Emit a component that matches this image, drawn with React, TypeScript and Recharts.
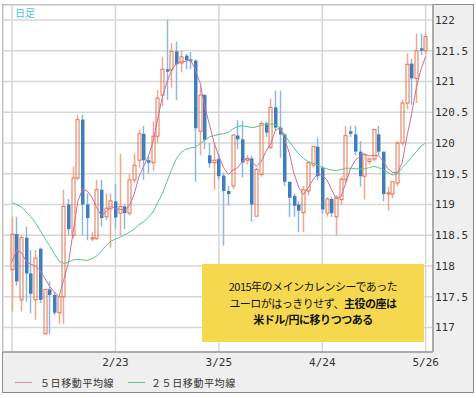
import { ComposedChart, Bar, Line, XAxis, YAxis, CartesianGrid } from 'recharts';

// daily candles, bar 0 = first gridline, bar 88 = 5/26
const opens = [
  117.94, 118.52, 117.45, 118.46, 117.88, 117.45, 118.28, 116.9, 117.62, 117.53,
  117.24, 117.5, 119.0, 118.5, 119.43, 120.38, 119.0, 118.44, 118.45, 119.24,
  118.8, 118.93, 119.05, 118.86, 118.97, 118.86, 119.4, 119.72, 120.15, 119.72,
  119.68, 120.11, 120.78, 121.2, 121.19, 121.49, 121.3, 121.42, 121.36, 121.34,
  120.19, 120.78, 119.8, 119.68, 119.74, 119.47, 119.22, 119.3, 120.12, 120.06,
  119.72, 119.75, 118.81, 119.49, 120.32, 119.93, 120.58, 120.25, 120.14, 119.37,
  119.14, 119.0, 118.87, 119.22, 119.64, 119.94, 119.6, 118.86, 119.09, 118.8,
  119.08, 119.41, 120.19, 120.14, 119.86, 119.46, 119.7, 119.74, 120.14, 119.86,
  119.17, 119.17, 119.35, 120.0, 120.65, 121.29, 121.05, 121.54, 121.5,
];
const highs = [
  118.8, 118.8, 118.5, 118.64, 118.26, 118.26, 118.3, 117.62, 117.75, 117.58,
  117.5, 119.24, 119.09, 119.62, 120.46, 120.46, 119.18, 118.55, 119.4, 119.4,
  119.18, 119.18, 119.33, 119.83, 119.0, 119.5, 119.83, 120.21, 120.28, 119.8,
  120.35, 120.86, 121.4, 122.0, 121.62, 121.65, 121.5, 121.45, 121.48, 121.36,
  120.92, 120.8, 120.0, 120.0, 119.82, 119.52, 119.3, 120.13, 120.37, 120.36,
  119.8, 119.79, 119.6, 120.35, 120.35, 120.72, 120.85, 120.85, 120.16, 119.37,
  119.18, 119.05, 119.3, 119.7, 119.96, 120.09, 119.62, 119.12, 119.12, 119.15,
  119.45, 120.28, 120.28, 120.28, 120.03, 119.84, 119.76, 120.22, 120.28, 119.86,
  119.29, 119.37, 120.03, 120.7, 121.46, 121.37, 121.78, 121.78, 121.78,
];
const lows = [
  117.26, 117.68, 117.26, 117.42, 117.23, 117.13, 117.4, 116.88, 116.89, 117.2,
  117.06, 117.06, 118.5, 118.45, 119.4, 118.5, 118.42, 118.4, 118.42, 118.64,
  118.75, 118.3, 118.6, 118.5, 118.6, 118.82, 119.35, 119.6, 119.4, 119.5,
  119.55, 120.0, 120.6, 120.7, 120.9, 120.7, 121.15, 121.2, 121.2, 119.37,
  119.8, 119.9, 119.6, 119.24, 119.4, 118.33, 118.98, 119.25, 119.9, 119.44,
  119.65, 118.72, 118.8, 119.45, 120.1, 119.9, 120.2, 119.76, 119.3, 118.8,
  118.8, 118.55, 118.55, 119.15, 119.6, 119.4, 118.85, 118.8, 118.8, 118.5,
  119.0, 119.35, 120.1, 119.8, 119.29, 119.08, 119.65, 119.7, 119.8, 119.05,
  118.9, 119.1, 119.3, 119.95, 120.55, 120.62, 120.65, 121.43, 121.45,
];
const closes = [
  118.52, 117.75, 118.46, 117.88, 117.55, 118.13, 117.45, 117.62, 117.53, 117.24,
  117.5, 118.97, 118.6, 119.43, 120.38, 119.0, 118.78, 118.46, 119.24, 118.78,
  118.94, 119.06, 118.79, 118.97, 118.86, 119.4, 119.64, 120.15, 119.72, 119.68,
  120.11, 120.73, 121.2, 121.16, 121.49, 121.28, 121.4, 121.35, 121.33, 120.24,
  120.78, 120.05, 119.67, 119.72, 119.46, 119.22, 119.17, 120.13, 120.06, 119.68,
  119.75, 119.0, 119.57, 120.32, 120.17, 120.58, 120.25, 120.14, 119.37, 119.11,
  118.98, 118.9, 119.24, 119.68, 119.94, 119.46, 118.92, 119.09, 118.86, 119.12,
  119.41, 120.12, 120.15, 119.86, 119.46, 119.81, 119.74, 120.22, 119.86, 119.17,
  119.19, 119.37, 120.0, 120.65, 121.28, 121.05, 121.5, 121.5, 121.73,
];
const ma5 = [
  118.07, 118.26, 118.22, 118.08, 118.03, 118.0, 117.92, 117.8, 117.67, 117.58,
  117.5, 117.78, 118.05, 118.55, 119.05, 119.25, 119.22, 119.12, 118.95, 118.82,
  118.88, 118.97, 118.94, 118.92, 118.91, 118.98, 119.17, 119.45, 119.62, 119.78,
  120.02, 120.4, 120.75, 121.0, 121.19, 121.3, 121.32, 121.33, 121.35, 121.19,
  120.98, 120.6, 120.3, 120.0, 119.79, 119.6, 119.49, 119.56, 119.6, 119.7,
  119.75, 119.7, 119.62, 119.7, 119.86, 119.98, 120.2, 120.25, 120.06, 119.84,
  119.5, 119.28, 119.16, 119.27, 119.4, 119.5, 119.47, 119.4, 119.24, 119.09,
  119.13, 119.35, 119.58, 119.72, 119.78, 119.82, 119.79, 119.8, 119.79, 119.7,
  119.58, 119.52, 119.52, 119.68, 120.1, 120.47, 120.9, 121.2, 121.41,
];
const ma25 = [
  119.03, 119.0, 118.96, 118.88, 118.8, 118.7, 118.58, 118.45, 118.33, 118.2,
  118.08, 118.04, 118.06, 118.1, 118.11, 118.1, 118.09, 118.12, 118.16, 118.24,
  118.33, 118.4, 118.44, 118.47, 118.51, 118.55, 118.6, 118.67, 118.72, 118.79,
  118.88, 119.03, 119.18, 119.38, 119.58, 119.75, 119.85, 119.9, 119.92, 119.93,
  119.99, 120.05, 120.1, 120.12, 120.14, 120.15, 120.17, 120.23, 120.27, 120.28,
  120.27, 120.25, 120.26, 120.29, 120.3, 120.31, 120.3, 120.25, 120.13, 120.02,
  119.92, 119.82, 119.75, 119.7, 119.67, 119.64, 119.6, 119.58, 119.56, 119.55,
  119.57, 119.59, 119.59, 119.58, 119.58, 119.58, 119.6, 119.62, 119.6, 119.56,
  119.52, 119.48, 119.5, 119.6, 119.68, 119.77, 119.86, 119.95, 120.0,
];

const tickIdx = [0, 22, 44, 66, 88];
const tickLabels = ['', '2/23', '3/25', '4/24', '5/26'];
const priceTicks = [117, 117.5, 118, 118.5, 119, 119.5, 120, 120.5, 121, 121.5, 122];

const data = opens.map((o, i) => ({
  idx: i,
  open: o,
  high: highs[i],
  low: lows[i],
  close: closes[i],
  ma5: ma5[i],
  ma25: ma25[i],
}));

const UP = '#e8704f';
const UP_WICK = '#f2a690';
const DOWN = '#3d7ebf';
const DOWN_WICK = '#8cb8e0';

function Candle(props: any) {
  const { x, y, width, height, payload } = props;
  if (x == null || y == null) return null;
  const cx = Math.round(x + width / 2) + 0.5;
  const top = Math.min(y, y + height);
  const bottom = Math.max(y, y + height);
  const span = payload.high - payload.low || 1;
  const toY = (v: number) => top + ((payload.high - v) / span) * (bottom - top);
  const up = payload.close >= payload.open;
  const bTop = toY(Math.max(payload.open, payload.close));
  let bBot = toY(Math.min(payload.open, payload.close));
  if (bBot - bTop < 1) bBot = bTop + 1;
  if (up) {
    return (
      <g>
        <line x1={cx} x2={cx} y1={top} y2={bTop} stroke={UP_WICK} strokeWidth={1.5} />
        <line x1={cx} x2={cx} y1={bBot} y2={bottom} stroke={UP_WICK} strokeWidth={1.5} />
        <rect x={cx - 1.5} y={bTop} width={3} height={bBot - bTop} fill="none" stroke={UP} strokeWidth={1} />
      </g>
    );
  }
  return (
    <g>
      <line x1={cx} x2={cx} y1={top} y2={bottom} stroke={DOWN_WICK} strokeWidth={1.5} />
      <rect x={cx - 1.5} y={bTop} width={3.5} height={bBot - bTop} fill={DOWN} />
    </g>
  );
}

const jp = '"Noto Sans CJK JP", "Noto Sans", sans-serif';
const mono = '"DejaVu Sans Mono", monospace';

export default function App() {
  return (
    <div style={{ position: 'absolute', left: 0, top: 0, width: 476, height: 398, background: '#fff', overflow: 'hidden' }}>
      <div
        style={{
          position: 'absolute',
          left: 2,
          top: 4,
          width: 472,
          height: 389,
          border: '1px solid #8c8c8c',
          boxSizing: 'border-box',
          background: '#efefef',
        }}
      />
      <div style={{ position: 'absolute', left: 0, top: 0 }}>
        <ComposedChart
          width={476}
          height={398}
          data={data}
          margin={{ top: 5, right: 2, bottom: 26, left: 3 }}
        >
          <CartesianGrid stroke="#d6d6d6" strokeWidth={1.5} fill="#ffffff" />
          <XAxis
            dataKey="idx"
            type="number"
            domain={[-1.914, 89.553]}
            allowDataOverflow
            ticks={tickIdx}
            tickFormatter={(v: number) => tickLabels[tickIdx.indexOf(v)] ?? ''}
            interval={0}
            height={20}
            tickSize={0}
            tickMargin={6}
            axisLine={{ stroke: '#9a9a9a', strokeWidth: 1.5 }}
            tick={{ fill: '#333', fontSize: 11, fontFamily: mono }}
          />
          <YAxis
            orientation="right"
            type="number"
            domain={[116.602, 122.244]}
            allowDataOverflow
            ticks={priceTicks}
            interval={0}
            width={41}
            tickSize={0}
            tickMargin={2}
            axisLine={{ stroke: '#9a9a9a', strokeWidth: 1.5 }}
            tick={{ fill: '#333', fontSize: 11, fontFamily: mono, textAnchor: 'start' }}
          />
          <Bar
            dataKey={(d: any) => [d.low, d.high]}
            barSize={4}
            shape={<Candle />}
            isAnimationActive={false}
          />
          <Line
            type="linear"
            dataKey="ma25"
            stroke="#52c98b"
            strokeWidth={1}
            dot={false}
            activeDot={false}
            isAnimationActive={false}
          />
          <Line
            type="linear"
            dataKey="ma5"
            stroke="#c9719a"
            strokeWidth={1}
            dot={false}
            activeDot={false}
            isAnimationActive={false}
          />
        </ComposedChart>
      </div>

      <div style={{ position: 'absolute', left: 15, top: 6, fontFamily: jp, fontSize: 10, color: '#4bbfee', lineHeight: '14px' }}>
        日足
      </div>

      <div
        style={{
          position: 'absolute',
          left: 202,
          top: 264,
          width: 222,
          height: 78,
          background: '#f6d84e',
          display: 'flex',
          flexDirection: 'column',
          alignItems: 'center',
          justifyContent: 'center',
          fontFamily: jp,
          fontSize: 11,
          letterSpacing: -0.5,
          lineHeight: '16.7px',
          color: '#111',
          whiteSpace: 'nowrap',
        }}
      >
        <div>2015年のメインカレンシーであった</div>
        <div>
          ユーロがはっきりせず、<b>主役の座は</b>
        </div>
        <div>
          <b>米ドル/円に移りつつある</b>
        </div>
      </div>

      <div style={{ position: 'absolute', left: 15, top: 382, width: 17, height: 1, background: '#d98ca5' }} />
      <div style={{ position: 'absolute', left: 40, top: 375, fontFamily: jp, fontSize: 10, letterSpacing: 0.6, color: '#333', lineHeight: '15px' }}>
        ５日移動平均線
      </div>
      <div style={{ position: 'absolute', left: 128, top: 382, width: 17, height: 1, background: '#55c98e' }} />
      <div style={{ position: 'absolute', left: 151, top: 375, fontFamily: jp, fontSize: 10, letterSpacing: 0.6, color: '#333', lineHeight: '15px' }}>
        ２５日移動平均線
      </div>
    </div>
  );
}
